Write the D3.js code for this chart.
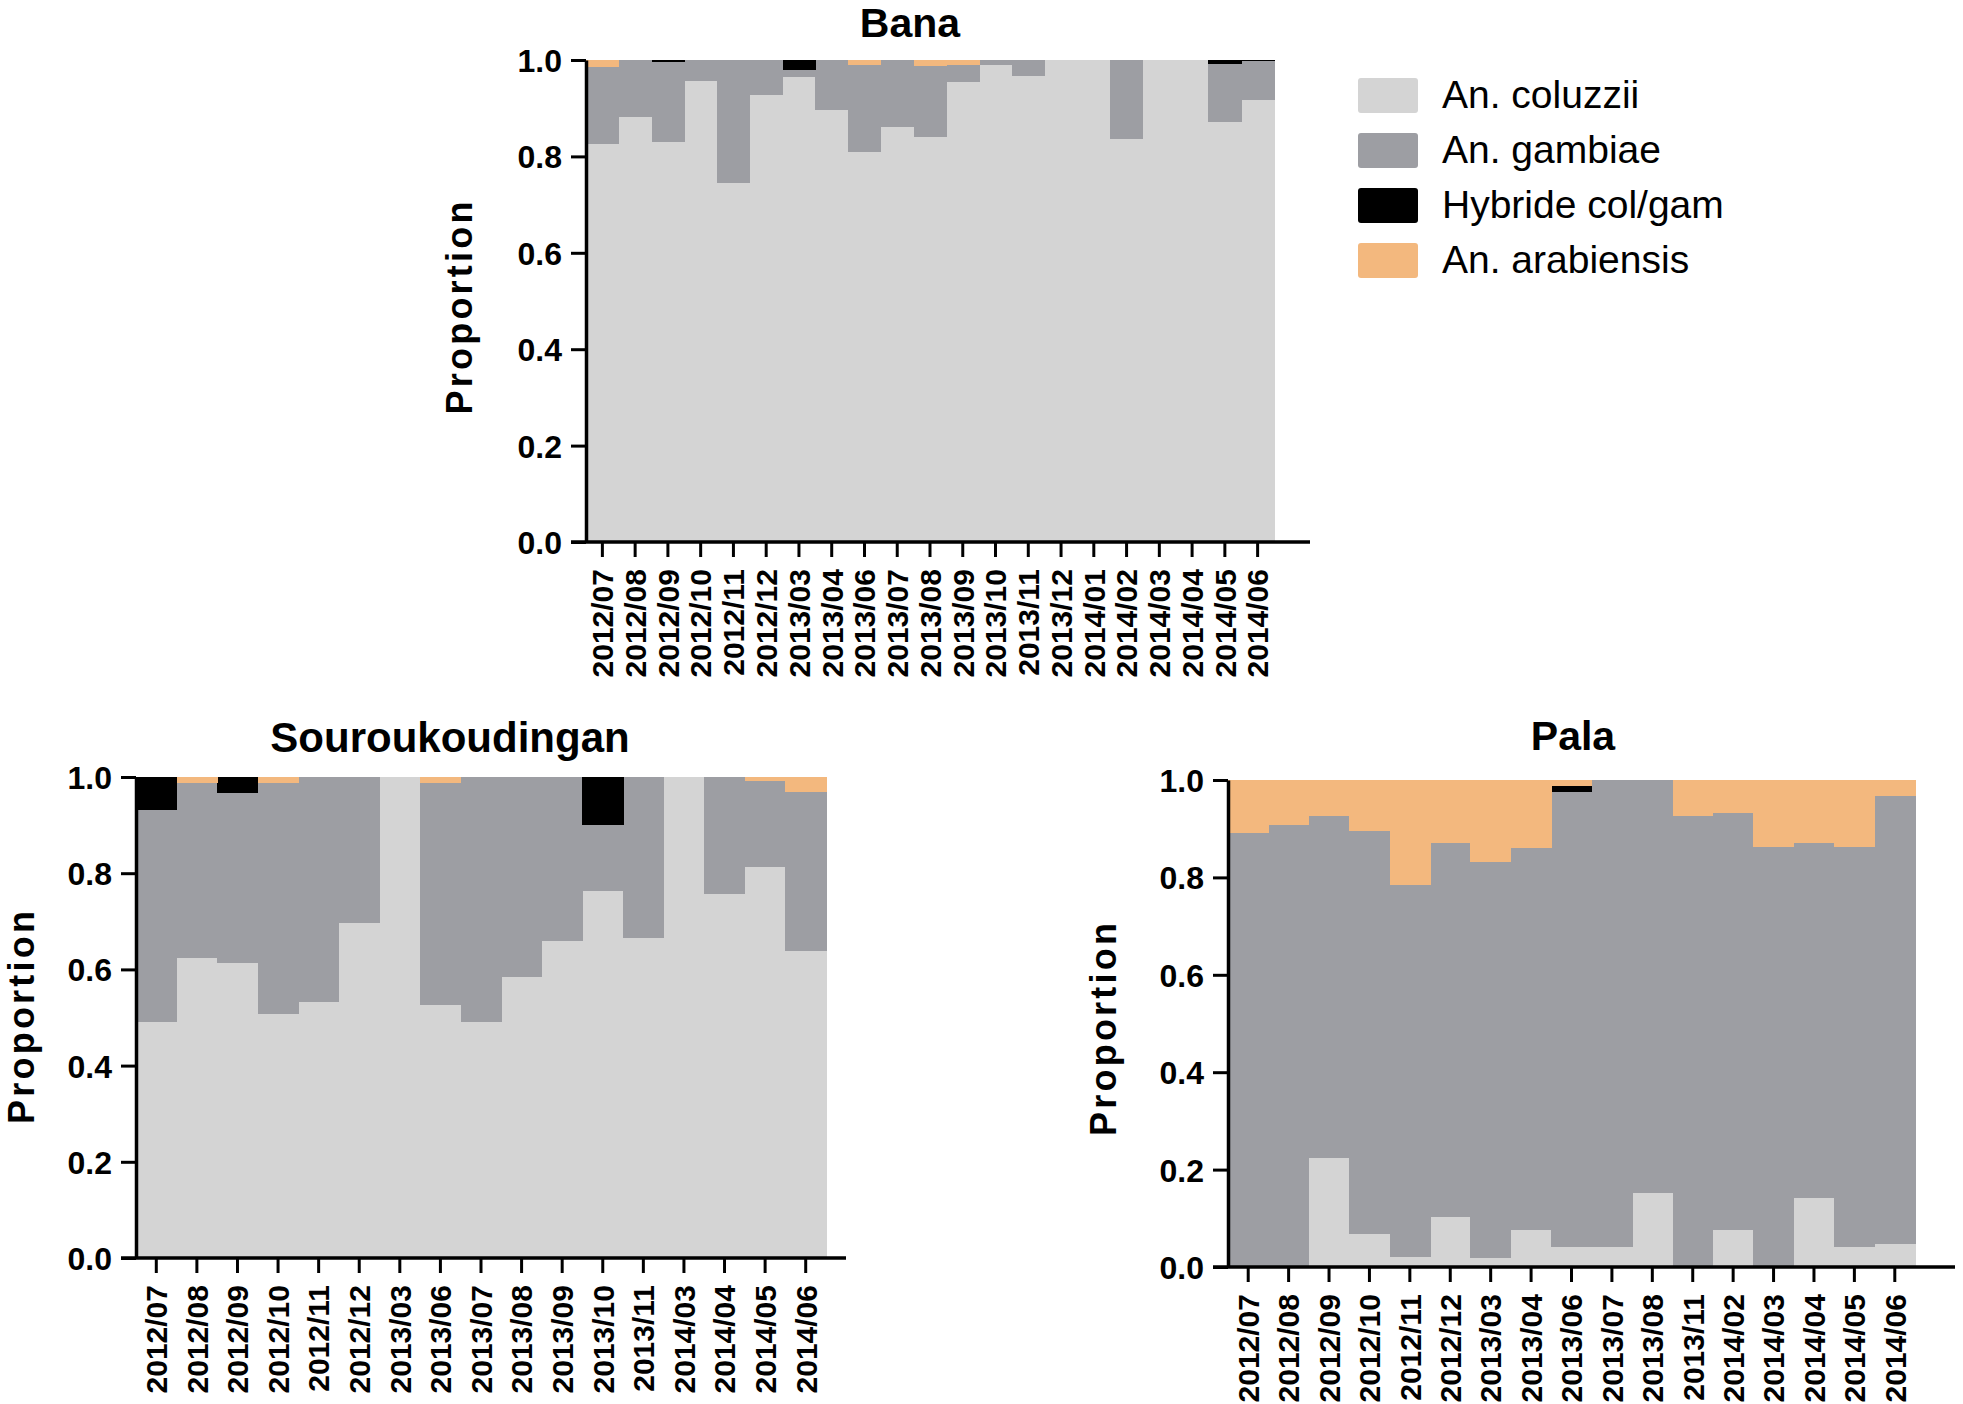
<!DOCTYPE html>
<html><head><meta charset="utf-8">
<script src="https://cdn.jsdelivr.net/npm/d3@7"></script>
<style>body{margin:0;background:#fff} svg{display:block}</style>
</head><body>
<svg id="chart" width="1963" height="1404"></svg>
<script>
// ---------- data ----------
const seriesNames = ["An. coluzzii", "An. gambiae", "Hybride col/gam", "An. arabiensis"];
const seriesColors = ["#d4d4d4", "#9d9ea3", "#000000", "#f3b87e"];
const yTickValues = [0, 0.2, 0.4, 0.6, 0.8, 1.0];

const banaCategories = ["2012/07","2012/08","2012/09","2012/10","2012/11","2012/12","2013/03","2013/04","2013/06","2013/07","2013/08","2013/09","2013/10","2013/11","2013/12","2014/01","2014/02","2014/03","2014/04","2014/05","2014/06"];
const banaColuzzii   = [0.826,0.882,0.830,0.957,0.744,0.927,0.965,0.897,0.810,0.862,0.841,0.954,0.989,0.966,1.000,1.000,0.836,1.000,1.000,0.872,0.916];
const banaGambiae    = [0.159,0.118,0.166,0.043,0.256,0.073,0.015,0.103,0.180,0.138,0.146,0.036,0.011,0.034,0.000,0.000,0.164,0.000,0.000,0.120,0.081];
const banaHybride    = [0.000,0.000,0.004,0.000,0.000,0.000,0.020,0.000,0.000,0.000,0.000,0.000,0.000,0.000,0.000,0.000,0.000,0.000,0.000,0.008,0.003];
const banaArabiensis = [0.015,0.000,0.000,0.000,0.000,0.000,0.000,0.000,0.010,0.000,0.013,0.010,0.000,0.000,0.000,0.000,0.000,0.000,0.000,0.000,0.000];

const sourouCategories = ["2012/07","2012/08","2012/09","2012/10","2012/11","2012/12","2013/03","2013/06","2013/07","2013/08","2013/09","2013/10","2013/11","2014/03","2014/04","2014/05","2014/06"];
const sourouColuzzii   = [0.491,0.623,0.613,0.507,0.533,0.697,1.000,0.526,0.491,0.584,0.659,0.762,0.665,1.000,0.757,0.813,0.639];
const sourouGambiae    = [0.440,0.364,0.354,0.480,0.467,0.303,0.000,0.461,0.509,0.416,0.341,0.138,0.335,0.000,0.243,0.179,0.330];
const sourouHybride    = [0.069,0.000,0.033,0.000,0.000,0.000,0.000,0.000,0.000,0.000,0.000,0.100,0.000,0.000,0.000,0.000,0.000];
const sourouArabiensis = [0.000,0.013,0.000,0.013,0.000,0.000,0.000,0.013,0.000,0.000,0.000,0.000,0.000,0.000,0.000,0.008,0.031];

const palaCategories = ["2012/07","2012/08","2012/09","2012/10","2012/11","2012/12","2013/03","2013/04","2013/06","2013/07","2013/08","2013/11","2014/02","2014/03","2014/04","2014/05","2014/06"];
const palaColuzzii   = [0.000,0.000,0.223,0.068,0.021,0.102,0.018,0.076,0.042,0.042,0.152,0.000,0.076,0.000,0.141,0.042,0.047];
const palaGambiae    = [0.892,0.907,0.704,0.828,0.764,0.769,0.813,0.785,0.934,0.958,0.848,0.927,0.856,0.863,0.730,0.821,0.920];
const palaHybride    = [0.000,0.000,0.000,0.000,0.000,0.000,0.000,0.000,0.012,0.000,0.000,0.000,0.000,0.000,0.000,0.000,0.000];
const palaArabiensis = [0.108,0.093,0.073,0.104,0.215,0.129,0.169,0.139,0.012,0.000,0.000,0.073,0.068,0.137,0.129,0.137,0.033];

// ---------- drawing ----------
const svg = d3.select("#chart");
const FONT = "'Liberation Sans', Arial, Helvetica, sans-serif";

function drawPanel(cfg) {
  const keys = seriesNames;
  const rows = cfg.categories.map((c, i) => ({
    cat: c,
    [keys[0]]: cfg.series[0][i],
    [keys[1]]: cfg.series[1][i],
    [keys[2]]: cfg.series[2][i],
    [keys[3]]: cfg.series[3][i]
  }));
  const stacked = d3.stack().keys(keys)(rows);

  const x = d3.scaleBand().domain(cfg.categories).range([cfg.axisX, cfg.barsEnd]).padding(0);
  const y = d3.scaleLinear().domain([0, 1]).range([cfg.yBottom, cfg.yTop]);
  const color = d3.scaleOrdinal().domain(keys).range(seriesColors);

  const g = svg.append("g");

  g.selectAll("g.layer").data(stacked).join("g")
    .attr("class", "layer")
    .attr("fill", d => color(d.key))
    .selectAll("rect").data(d => d).join("rect")
    .attr("shape-rendering", "crispEdges")
    .attr("x", d => x(d.data.cat))
    .attr("width", x.bandwidth() + 0.5)
    .attr("y", d => y(d[1]))
    .attr("height", d => Math.max(0, y(d[0]) - y(d[1])));

  // y axis
  const yAxis = d3.axisLeft(y).tickValues(yTickValues).tickFormat(d3.format(".1f"))
    .tickSize(15).tickSizeOuter(0).tickPadding(9);
  const ya = g.append("g").attr("transform", `translate(${cfg.axisX},0)`).call(yAxis);
  ya.select(".domain").attr("stroke", "#000").attr("stroke-width", 3.5);
  ya.selectAll(".tick line").attr("stroke", "#000").attr("stroke-width", 3);
  ya.selectAll(".tick text").attr("font-family", FONT).attr("font-weight", "bold")
    .attr("font-size", 32).attr("fill", "#000").attr("dy", "0.36em");

  // x axis
  const xAxis = d3.axisBottom(x).tickSize(15).tickSizeOuter(0);
  const xa = g.append("g").attr("transform", `translate(0,${cfg.yBottom})`).call(xAxis);
  xa.select(".domain").remove();
  xa.selectAll(".tick line").attr("stroke", "#000").attr("stroke-width", 3);
  xa.selectAll(".tick text")
    .attr("font-family", FONT).attr("font-weight", "bold").attr("font-size", 30).attr("fill", "#000")
    .attr("transform", "rotate(-90)")
    .attr("text-anchor", "end")
    .attr("x", -27).attr("y", 0).attr("dy", "0.36em");
  g.append("line")
    .attr("x1", cfg.axisX - 15).attr("x2", cfg.axisEnd)
    .attr("y1", y(0)).attr("y2", y(0))
    .attr("stroke", "#000").attr("stroke-width", 3.5);

  // title
  g.append("text").text(cfg.title)
    .attr("x", cfg.titleX).attr("y", cfg.titleY)
    .attr("text-anchor", "middle")
    .attr("font-family", FONT).attr("font-weight", "bold").attr("font-size", cfg.titleSize);

  // y title
  g.append("text").text("Proportion")
    .attr("transform", `translate(${cfg.propX},${(cfg.yTop + cfg.yBottom) / 2 + cfg.propDy}) rotate(-90)`)
    .attr("text-anchor", "middle")
    .attr("font-family", FONT).attr("font-weight", "bold").attr("font-size", 36)
    .attr("textLength", 213).attr("lengthAdjust", "spacing");
}

drawPanel({
  title: "Bana", categories: banaCategories, titleSize: 41,
  series: [banaColuzzii, banaGambiae, banaHybride, banaArabiensis],
  axisX: 586, barsEnd: 1274, axisEnd: 1310, yTop: 60, yBottom: 542,
  titleX: 910, titleY: 37, propX: 472, propDy: 7
});
drawPanel({
  title: "Souroukoudingan", categories: sourouCategories, titleSize: 42,
  series: [sourouColuzzii, sourouGambiae, sourouHybride, sourouArabiensis],
  axisX: 136, barsEnd: 826, axisEnd: 846, yTop: 777, yBottom: 1258,
  titleX: 450, titleY: 752, propX: 34, propDy: 0
});
drawPanel({
  title: "Pala", categories: palaCategories, titleSize: 41,
  series: [palaColuzzii, palaGambiae, palaHybride, palaArabiensis],
  axisX: 1228, barsEnd: 1915, axisEnd: 1955, yTop: 780, yBottom: 1267,
  titleX: 1573, titleY: 750, propX: 1116, propDy: 6
});

// legend
const legend = svg.append("g").attr("transform", "translate(1358,78)");
const li = legend.selectAll("g").data(seriesNames).join("g")
  .attr("transform", (d, i) => `translate(0,${i * 55})`);
li.append("rect").attr("width", 60).attr("height", 35).attr("rx", 3)
  .attr("fill", (d, i) => seriesColors[i]);
li.append("text").text(d => d).attr("x", 84).attr("y", 30)
  .attr("font-family", FONT).attr("font-size", 39).attr("fill", "#000");
</script>
</body></html>
